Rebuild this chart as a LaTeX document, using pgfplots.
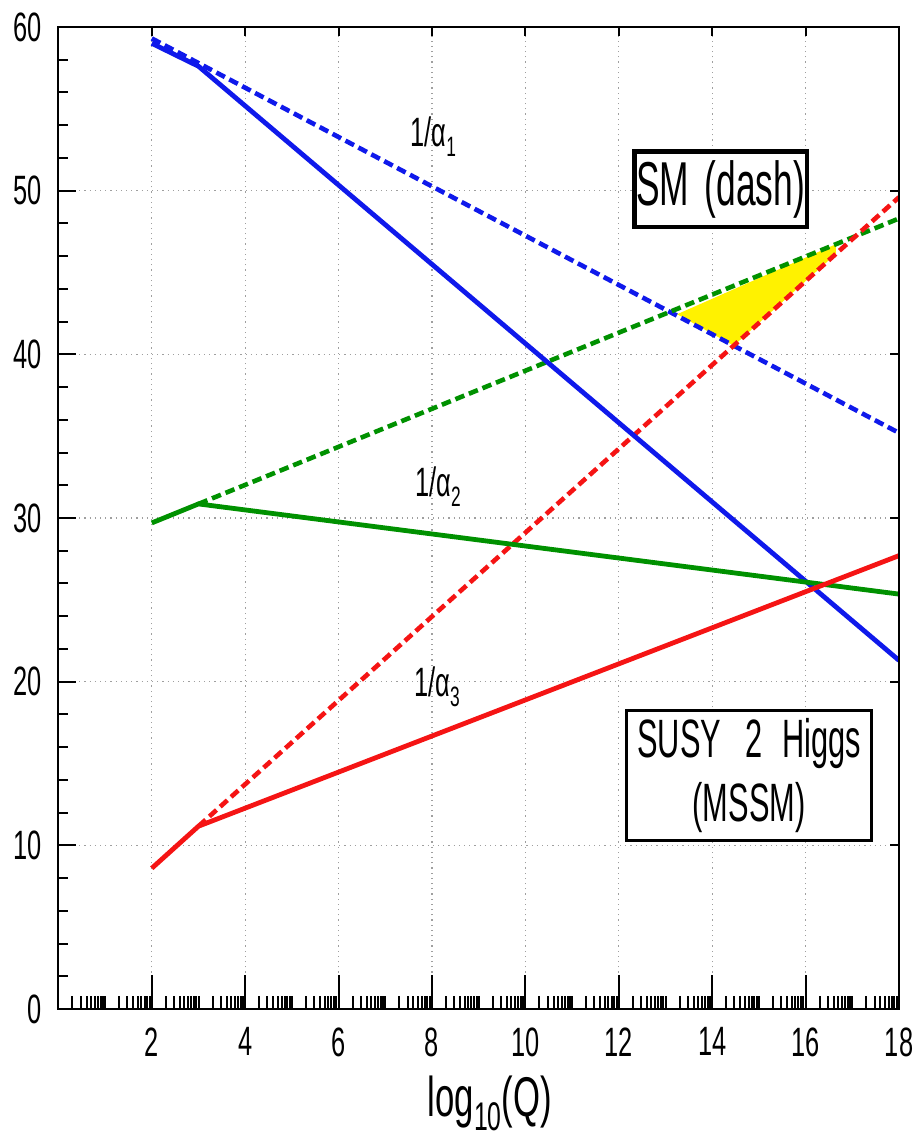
\documentclass[border=0pt]{standalone}
\usepackage{fontspec}
\setmainfont{Liberation Sans}[FakeStretch=0.62]
\newfontfamily\boxfont{Liberation Sans}[FakeStretch=0.57]
\usepackage{pgfplots}
\pgfplotsset{compat=1.18}

\definecolor{lblue}{RGB}{15,25,235}
\definecolor{lgreen}{RGB}{0,145,0}
\definecolor{lred}{RGB}{245,20,20}

\def\minorlist{1,3,5,7,9,11,13,15,17}
\foreach \n in {0,...,17}{%
  \foreach \k in {2,...,9}{%
    \pgfmathparse{\n+log10(\k)}%
    \xdef\minorlist{\minorlist,\pgfmathresult}}}

\pgfplotsset{
  commonaxis/.style={
    scale only axis, width=420.3pt, height=491pt,
    xmin=0, xmax=18, ymin=0, ymax=60,
    axis line style={line width=1pt, black},
    tick align=inside,
    tick style={black, line width=0.8pt},
    /pgf/number format/assume math mode=true,
  }
}

\begin{document}
\begin{tikzpicture}
% main axis: data, grid, left y ticks
\begin{axis}[commonaxis,
  xtick={2,4,...,18}, xmajorticks=false, xticklabels={},
  ytick={0,10,...,60}, minor y tick num=4, ytick pos=left,
  major tick length=9pt, minor tick length=5pt,
  tick style={black, line width=1pt},
  xmajorgrids, ymajorgrids,
  major grid style={gray!75, line width=0.6pt, dash pattern=on 0.6pt off 2pt},
  yticklabel style={font=\fontsize{20.5}{24}\selectfont, inner sep=0pt, anchor=east, xshift=-8pt},
]
% yellow region between the SM lines
\addplot[fill=yellow, draw=none] coordinates {(13.25,42.45) (16.65,46.73) (16.65,46.14) (14.46,40.53)} -- cycle;

% SM (dashed)
\addplot[lblue, line width=2.3pt, dash pattern=on 4.8pt off 2.5pt] coordinates {(2,59.3) (18,35.2)};
\addplot[lgreen, line width=2.3pt, dash pattern=on 4.8pt off 2.5pt] coordinates {(3,30.86) (18,48.3)};
\addplot[lred, line width=2.3pt, dash pattern=on 4.8pt off 2.5pt] coordinates {(3,11.17) (18,49.6)};
% MSSM (solid)
\addplot[lblue, line width=2.4pt] coordinates {(2,59.0) (3,57.6) (18,21.3)};
\addplot[lgreen, line width=2.4pt] coordinates {(2,29.7) (3,30.86) (18,25.35)};
\addplot[lred, line width=2.4pt] coordinates {(2,8.6) (3,11.17) (18,27.7)};

\node[anchor=base west, inner sep=0pt, font=\fontsize{20.5}{24}\selectfont] at (axis cs:7.53,52.68) {1/α\raisebox{-5pt}{\fontsize{14}{14}\selectfont 1}};
\node[anchor=base west, inner sep=0pt, font=\fontsize{20.5}{24}\selectfont] at (axis cs:7.63,31.3) {1/α\raisebox{-5pt}{\fontsize{14}{14}\selectfont 2}};
\node[anchor=base west, inner sep=0pt, font=\fontsize{20.5}{24}\selectfont] at (axis cs:7.61,19.08) {1/α\raisebox{-5pt}{\fontsize{14}{14}\selectfont 3}};

\node[draw=black, fill=white, line width=2.2pt, minimum width=86.3pt, minimum height=37.8pt, inner sep=0pt,
      font=\boxfont\fontsize{31}{36}\selectfont] at (axis cs:14.18,50.09) {SM\hspace{3pt} (dash)};
\node[draw=black, fill=white, line width=1.5pt, minimum width=122.5pt, minimum height=65pt, inner sep=0pt, align=center,
      font=\boxfont\fontsize{27}{31.7}\selectfont] at (axis cs:14.79,14.26) {SUSY\hspace{12pt}2\hspace{10pt}Higgs\\(MSSM)};
\end{axis}

% right and top ticks
\begin{axis}[commonaxis,
  xtick={2,4,...,16}, xtick pos=right, xticklabels={},
  ytick={10,20,...,50}, ytick pos=right, yticklabels={},
  major tick length=4.5pt, tick style={black, line width=1pt},
]
\end{axis}

% bottom ticks and labels
\begin{axis}[commonaxis,
  xtick={2,4,...,18}, xtick pos=left,
  minor xtick/.expanded={\minorlist},
  major tick length=17pt, minor tick length=6.5pt,
  tick style={black, line width=1pt},
  ytick=\empty,
  xticklabel style={font=\fontsize{20.5}{24}\selectfont, inner sep=0pt, anchor=north, yshift=-9pt},
  xlabel={log\raisebox{-7pt}{\fontsize{20}{20}\selectfont 10}(Q)},
  xlabel style={font=\fontsize{28}{32}\selectfont, at={(axis description cs:0.5,0)}, anchor=base, yshift=-53.5pt, xshift=5.5pt, inner sep=0pt},
]
\end{axis}

\pgfresetboundingbox
\path[use as bounding box] (-29.2pt,-65.5pt) rectangle (431.3pt,504.5pt);
\end{tikzpicture}
\end{document}
